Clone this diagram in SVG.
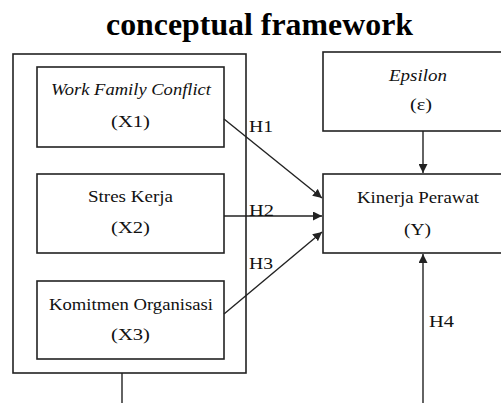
<svg xmlns="http://www.w3.org/2000/svg" width="501" height="403" viewBox="0 0 501 403">
<style>
.box{fill:#fff;stroke:#222;stroke-width:1.6}
.ln{fill:none;stroke:#222;stroke-width:1.4}
.t{font-family:"Liberation Serif","Times New Roman",serif;font-size:17px;fill:#111;text-anchor:start}
.c{text-anchor:middle}
.i{font-style:italic}
.title{font-family:"Liberation Serif","Times New Roman",serif;font-size:32px;font-weight:bold;fill:#000;text-anchor:middle}
</style>
<defs>
<marker id="ah" viewBox="0 0 10 10" refX="10" refY="5" markerWidth="9" markerHeight="9" markerUnits="userSpaceOnUse" orient="auto">
<path d="M0,0 L10,5 L0,10 z" fill="#222"/>
</marker>
</defs>
<rect width="501" height="403" fill="#fff"/>
<text class="title" x="259.5" y="35" textLength="307" lengthAdjust="spacingAndGlyphs">conceptual framework</text>
<g id="outer">
<rect class="box" x="13" y="54" width="233" height="319"/>
</g>
<g id="x1">
<rect class="box" x="37" y="67" width="187" height="80"/>
<text class="t i" x="51" y="95" textLength="160" lengthAdjust="spacingAndGlyphs">Work Family Conflict</text>
<text class="t" x="111" y="127" textLength="39" lengthAdjust="spacingAndGlyphs">(X1)</text>
</g>
<g id="x2">
<rect class="box" x="37" y="174" width="187" height="79"/>
<text class="t" x="88" y="202" textLength="85" lengthAdjust="spacingAndGlyphs">Stres Kerja</text>
<text class="t" x="111" y="233" textLength="39" lengthAdjust="spacingAndGlyphs">(X2)</text>
</g>
<g id="x3">
<rect class="box" x="37" y="281" width="187" height="78"/>
<text class="t" x="49" y="310" textLength="164" lengthAdjust="spacingAndGlyphs">Komitmen Organisasi</text>
<text class="t" x="111" y="340" textLength="39" lengthAdjust="spacingAndGlyphs">(X3)</text>
</g>
<g id="epsilon">
<rect class="box" x="323" y="52" width="200" height="79"/>
<text class="t i" x="389" y="81" textLength="58" lengthAdjust="spacingAndGlyphs">Epsilon</text>
<text class="t" x="410" y="110" textLength="22" lengthAdjust="spacingAndGlyphs">(ε)</text>
</g>
<g id="y">
<rect class="box" x="323" y="174" width="200" height="79"/>
<text class="t" x="357" y="203" textLength="122" lengthAdjust="spacingAndGlyphs">Kinerja Perawat</text>
<text class="t" x="404" y="235" textLength="27" lengthAdjust="spacingAndGlyphs">(Y)</text>
</g>
<g id="connectors">
<line class="ln" x1="224" y1="119" x2="322" y2="198" marker-end="url(#ah)"/>
<line class="ln" x1="224" y1="216" x2="322" y2="216" marker-end="url(#ah)"/>
<line class="ln" x1="224" y1="314" x2="322" y2="232" marker-end="url(#ah)"/>
<line class="ln" x1="423" y1="131" x2="423" y2="173" marker-end="url(#ah)"/>
<line class="ln" x1="423" y1="403" x2="423" y2="254" marker-end="url(#ah)"/>
<line class="ln" x1="122" y1="373" x2="122" y2="403"/>
<text class="t" x="249" y="132" textLength="24" lengthAdjust="spacingAndGlyphs">H1</text>
<text class="t" x="249" y="216" textLength="25" lengthAdjust="spacingAndGlyphs">H2</text>
<text class="t" x="249" y="269" textLength="24" lengthAdjust="spacingAndGlyphs">H3</text>
<text class="t" x="429" y="327" textLength="25" lengthAdjust="spacingAndGlyphs">H4</text>
</g>
</svg>
